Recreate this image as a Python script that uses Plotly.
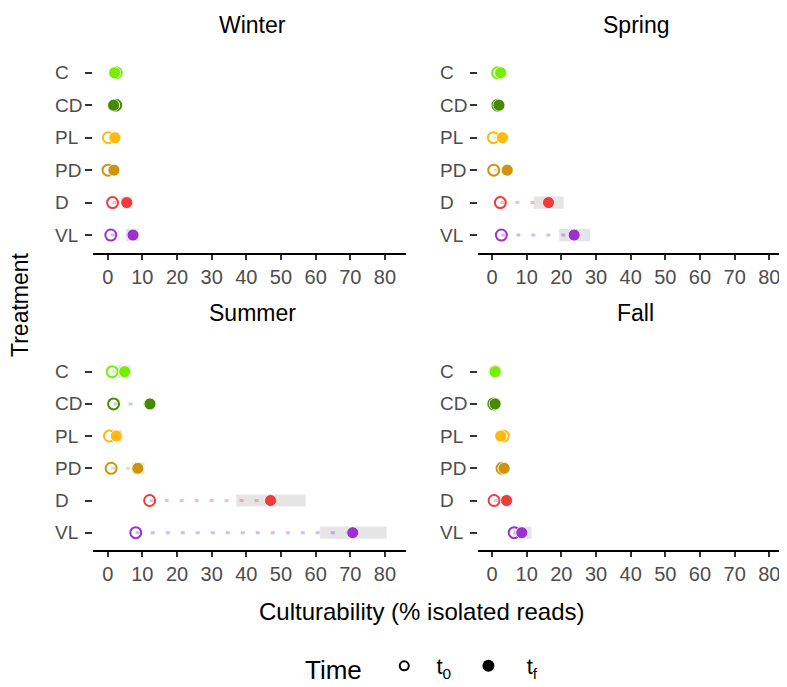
import plotly.graph_objects as go
from plotly.subplots import make_subplots

OFF = 8              # page body margin
W, H = 787 - OFF, 687 - OFF

seasons = ["Winter", "Spring", "Summer", "Fall"]
treatments = ["C", "CD", "PL", "PD", "D", "VL"]
colors = ["#76EE00", "#458B00", "#FFB90F", "#CD950C", "#EE3B3B", "#9A32CD"]
line_colors = ["rgba(118,238,0,0.35)", "rgba(69,139,0,0.35)", "rgba(255,185,15,0.35)",
               "rgba(205,149,12,0.35)", "rgba(238,59,59,0.35)", "rgba(154,50,205,0.35)"]

# culturability at t0 and tf (% isolated reads), order = treatments
t0_winter = [2.5, 2.3, 0.2, 0.1, 1.4, 0.9]
tf_winter = [2.0, 1.7, 2.1, 1.8, 5.5, 7.3]
t0_spring = [1.6, 1.7, 0.4, 0.5, 2.4, 2.7]
tf_spring = [2.5, 2.0, 3.0, 4.4, 16.3, 23.7]
t0_summer = [1.3, 1.7, 0.5, 1.0, 12.1, 8.1]
tf_summer = [4.9, 12.2, 2.5, 8.7, 47.0, 70.7]
t0_fall = [0.9, 0.5, 3.3, 2.9, 0.6, 6.4]
tf_fall = [0.9, 0.9, 2.5, 3.5, 4.2, 8.6]

# interval around tf (low, high); None = not visible
lo_winter = [None, None, None, None, 4.0, 5.3]
hi_winter = [None, None, None, None, 7.1, 8.9]
lo_spring = [None, None, None, None, 12.0, 19.4]
hi_spring = [None, None, None, None, 20.7, 28.3]
lo_summer = [3.0, None, 1.2, 7.1, 37.1, 61.3]
hi_summer = [6.6, None, 4.2, 10.6, 57.1, 80.5]
lo_fall = [None, None, None, None, None, 6.0]
hi_fall = [None, None, None, None, None, 11.4]

x_ticks = [0, 10, 20, 30, 40, 50, 60, 70, 80]

t0_all = [t0_winter, t0_spring, t0_summer, t0_fall]
tf_all = [tf_winter, tf_spring, tf_summer, tf_fall]
lo_all = [lo_winter, lo_spring, lo_summer, lo_fall]
hi_all = [hi_winter, hi_spring, hi_summer, hi_fall]

FONT = "Liberation Sans, Arial, sans-serif"
TICKC = "#4D4D4D"
NB = "\u00a0"


def fx(px):
    return (px - OFF) / W


def fy(py):
    return 1 - (py - OFF) / H


fig = make_subplots(rows=2, cols=2)

# panel geometry in pixels (page coordinates)
col_px = [(93, 406), (478, 787)]
row_px = [(54.9, 252.9), (354.0, 550.4)]
x_ranges = [[-4.24, 86.07], [-4.04, 85.1]]
cat_order = treatments[::-1]

for k, season in enumerate(seasons):
    r, c = k // 2 + 1, k % 2 + 1
    t0, tf, lo, hi = t0_all[k], tf_all[k], lo_all[k], hi_all[k]
    widths = [(h - l) if (l is not None and h is not None) else None for l, h in zip(lo, hi)]
    fig.add_trace(go.Bar(y=treatments, x=widths, base=lo, orientation="h",
                         marker=dict(color="#E5E5E5", line=dict(width=0)),
                         width=0.38, showlegend=False, hoverinfo="skip"), row=r, col=c)
    for i, tr in enumerate(treatments):
        fig.add_trace(go.Scatter(x=[t0[i], tf[i]], y=[tr, tr], mode="lines",
                                 line=dict(color=line_colors[i], width=3, dash="4px,11px"),
                                 showlegend=False, hoverinfo="skip"), row=r, col=c)
    fig.add_trace(go.Scatter(x=t0, y=treatments, mode="markers",
                             marker=dict(symbol="circle-open", size=11, color=colors,
                                         line=dict(width=2, color=colors)),
                             showlegend=False), row=r, col=c)
    fig.add_trace(go.Scatter(x=tf, y=treatments, mode="markers",
                             marker=dict(symbol="circle", size=12, color=colors,
                                         line=dict(width=0.8, color="white")),
                             showlegend=False), row=r, col=c)

    x0p, x1p = col_px[c - 1]
    ytp, ybp = row_px[r - 1]
    xa = "xaxis" if k == 0 else f"xaxis{k+1}"
    ya = "yaxis" if k == 0 else f"yaxis{k+1}"
    fig.layout[xa].update(domain=[fx(x0p), min(1.0, fx(x1p))], range=x_ranges[c - 1],
                          tickvals=x_ticks, showgrid=False, zeroline=False,
                          showline=True, linecolor="black", linewidth=2,
                          ticks="outside", ticklen=5, tickwidth=2, tickcolor="#333333",
                          tickfont=dict(family=FONT, size=20, color=TICKC))
    fig.layout[ya].update(domain=[fy(ybp), fy(ytp)], type="category",
                          categoryorder="array", categoryarray=cat_order,
                          range=[-0.55, 5.55], showgrid=False, zeroline=False,
                          showline=False, ticks="outside", ticklen=7, tickwidth=2,
                          tickcolor="#333333", showticklabels=False)
    yref = "y" if k == 0 else f"y{k+1}"
    for tr in treatments:
        fig.add_annotation(x=fx(x0p - 40), y=tr, xref="paper", yref=yref,
                           text=tr, showarrow=False, xanchor="left", yanchor="middle",
                           font=dict(family=FONT, size=19, color=TICKC))
    fig.add_annotation(x=fx((x0p + x1p) / 2 + 3), y=fy(25 if r == 1 else 313),
                       xref="paper", yref="paper", text=season, showarrow=False,
                       xanchor="center", yanchor="middle",
                       font=dict(family=FONT, size=23, color="black"))

# axis titles
fig.add_annotation(x=fx(421), y=fy(611), xref="paper", yref="paper",
                   text="Culturability (% isolated reads)", showarrow=False,
                   xanchor="center", yanchor="middle",
                   font=dict(family=FONT, size=24, color="black"))
fig.add_annotation(x=fx(20), y=fy(305), xref="paper", yref="paper",
                   text="Treatment", showarrow=False, textangle=-90,
                   xanchor="center", yanchor="middle",
                   font=dict(family=FONT, size=23, color="black"))

# legend entries
fig.add_trace(go.Scatter(x=[None], y=[None], mode="markers",
                         name=NB * 2 + "t<sub>0</sub>" + NB * 2,
                         marker=dict(symbol="circle-open", size=9, color="black",
                                     line=dict(width=2, color="black"))))
fig.add_trace(go.Scatter(x=[None], y=[None], mode="markers",
                         name=NB * 3 + "t<sub>f</sub>",
                         marker=dict(symbol="circle", size=12, color="black")))

fig.update_layout(
    width=W, height=H, margin=dict(l=0, r=0, t=0, b=0, autoexpand=False),
    paper_bgcolor="white", plot_bgcolor="white", barmode="overlay",
    font=dict(family=FONT, color="black"),
    showlegend=True,
    legend=dict(orientation="h", x=fx(303), xanchor="left", y=fy(667), yanchor="middle",
                title=dict(text="Time" + NB * 2, font=dict(family=FONT, size=26, color="black")),
                font=dict(family=FONT, size=22, color="black"), itemwidth=30,
                bgcolor="rgba(0,0,0,0)"),
)

fig.write_html("out.html")
